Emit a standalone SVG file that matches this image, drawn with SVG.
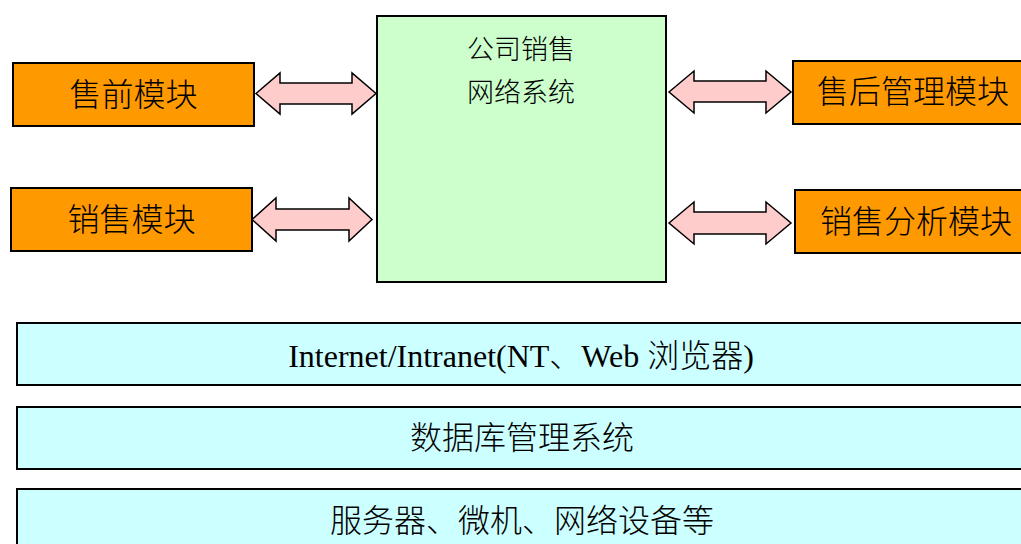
<svg xmlns="http://www.w3.org/2000/svg" width="1021" height="544" viewBox="0 0 1021 544">
  <style>
    .module { fill: #FF9900; stroke: #000; stroke-width: 2; }
    .core { fill: #CCFFCC; stroke: #000; stroke-width: 2; }
    .layer { fill: #CCFFFF; stroke: #000; stroke-width: 2; }
    .link { fill: #FFCCCC; stroke: #000; stroke-width: 1.5; stroke-linejoin: miter; }
    .zh { font-family: "Noto Sans CJK SC", sans-serif; font-weight: 300; fill: #000; text-anchor: middle; }
    .mix { font-family: "Liberation Serif", "Noto Sans CJK SC", serif; font-weight: 300; fill: #000; text-anchor: middle; }
  </style>
  <rect width="1021" height="544" fill="#fff"/>

  <!-- central system -->
  <g id="core">
    <rect class="core" x="377" y="16" width="289" height="266"/>
    <text class="zh" x="521" y="59" font-size="27">公司销售</text>
    <text class="zh" x="521" y="102" font-size="27">网络系统</text>
  </g>

  <!-- functional modules -->
  <g id="presale">
    <rect class="module" x="13" y="63" width="241" height="63"/>
    <text class="zh" x="133.5" y="106" font-size="32">售前模块</text>
  </g>
  <g id="sales">
    <rect class="module" x="11" y="188" width="241" height="63"/>
    <text class="zh" x="131.5" y="231" font-size="32">销售模块</text>
  </g>
  <g id="aftersale">
    <rect class="module" x="793" y="61" width="240" height="63"/>
    <text class="zh" x="913" y="103" font-size="32">售后管理模块</text>
  </g>
  <g id="analysis">
    <rect class="module" x="795" y="190" width="240" height="63"/>
    <text class="zh" x="916" y="233" font-size="32">销售分析模块</text>
  </g>

  <!-- two-way links between modules and the central system -->
  <g id="connectors">
    <polygon class="link" points="256,93.5 280,73 280,83 352,83 352,73 376,93.5 352,114 352,104 280,104 280,114"/>
    <polygon class="link" points="252,219.5 276,198 276,209 349,209 349,198 372,219.5 349,241 349,230 276,230 276,241"/>
    <polygon class="link" points="669,92 694,71 694,81 766,81 766,71 791,92 766,113 766,102 694,102 694,113"/>
    <polygon class="link" points="669,223 694,202 694,212 766,212 766,202 791,223 766,244 766,234 694,234 694,244"/>
  </g>

  <!-- platform layers -->
  <g id="network">
    <rect class="layer" x="17" y="323" width="1015" height="62"/>
    <text class="mix" x="521" y="367" font-size="32">Internet/Intranet(NT、Web 浏览器)</text>
  </g>
  <g id="dbms">
    <rect class="layer" x="17" y="407" width="1015" height="62"/>
    <text class="zh" x="522" y="449" font-size="32">数据库管理系统</text>
  </g>
  <g id="hardware">
    <rect class="layer" x="17" y="489" width="1015" height="70"/>
    <text class="zh" x="522" y="532" font-size="32">服务器、微机、网络设备等</text>
  </g>
</svg>
